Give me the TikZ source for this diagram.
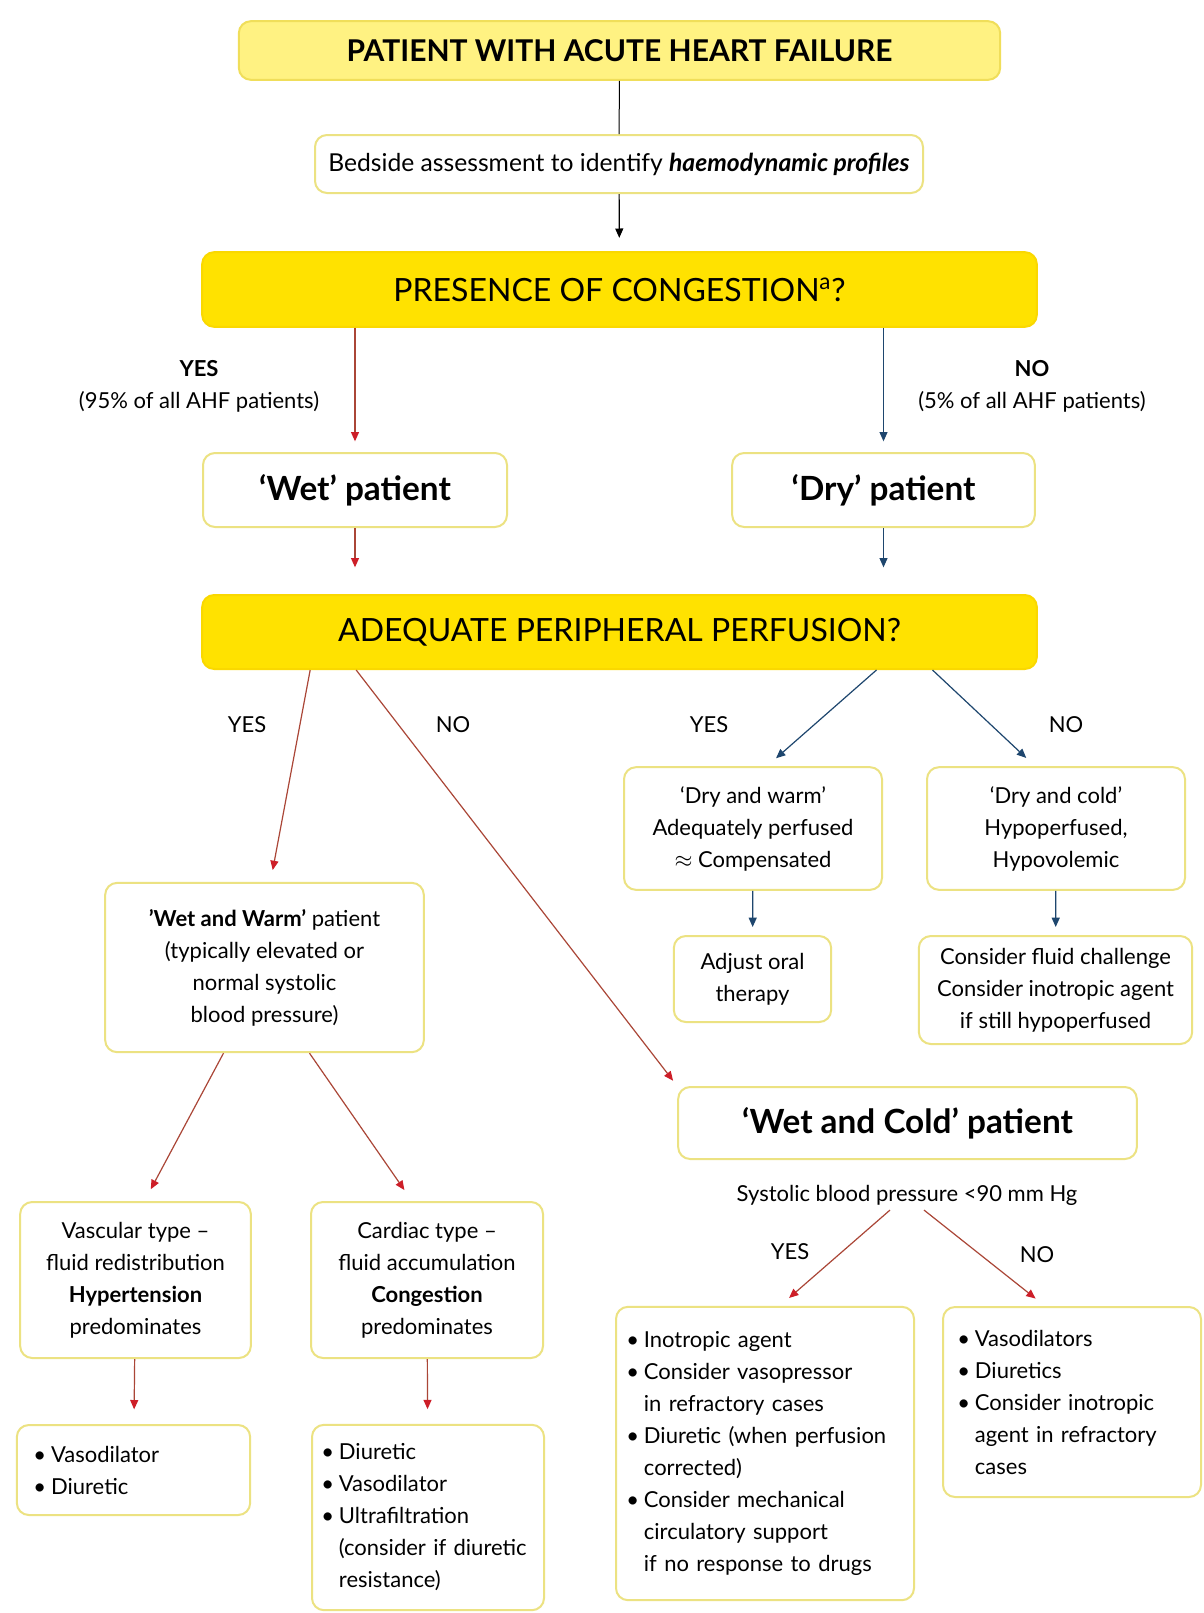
\documentclass[tikz,border=0pt]{standalone}
\usepackage{fontspec}
\setmainfont{Lato}
\usetikzlibrary{arrows.meta,calc}

\definecolor{paleYellow}{RGB}{255,242,130}
\definecolor{headEdge}{RGB}{240,222,90}
\definecolor{brightYellow}{RGB}{255,226,0}
\definecolor{questEdge}{RGB}{250,216,0}
\definecolor{boxEdge}{RGB}{236,226,130}
\definecolor{redLine}{RGB}{170,70,55}
\definecolor{redTip}{RGB}{205,30,40}
\definecolor{blueLine}{RGB}{30,70,110}

\newcommand{\bodyfont}{\fontsize{16.5}{24}\selectfont}
\newcommand{\bul}{\makebox[0.8em][l]{•}}
\newcommand{\ind}{\hspace*{0.8em}}

\tikzset{every picture/.style={line width=0.75pt},
  headbox/.style={draw=headEdge, fill=paleYellow, line width=1.5pt, rounded corners=9pt, align=center},
  questbox/.style={draw=questEdge, fill=brightYellow, line width=1.5pt, rounded corners=9pt, align=center},
  plainbox/.style={draw=boxEdge, fill=white, line width=1.5pt, rounded corners=9pt, align=center, font=\bodyfont},
  listbox/.style={plainbox, align=left},
  lbl/.style={font=\bodyfont, align=center},
  redarrow/.style={draw=redLine, line width=0.9pt, -{Triangle[length=7pt,width=6pt,color=redTip]}},
  bluearrow/.style={draw=blueLine, line width=0.9pt, -{Triangle[length=7pt,width=6pt]}},
  blackarrow/.style={draw=black, line width=0.9pt, -{Triangle[length=7pt,width=6pt]}}
}

\begin{document}
\begin{tikzpicture}[x=0.75pt,y=0.75pt,yscale=-1,xscale=1]
\path[use as bounding box, fill=white] (0,0) rectangle (1203,1613);

% top of the chart
\node[headbox, minimum width=571pt, minimum height=44pt] (patient) at (619.5,50.5) {\fontsize{22.5}{26}\selectfont\bfseries PATIENT WITH ACUTE HEART FAILURE};
\node[plainbox, minimum width=456pt, minimum height=43.5pt] (bedside) at (619,164) {\fontsize{18.5}{24}\selectfont Bedside assessment to identify \textbf{\textit{haemodynamic profiles}}};
\node[questbox, minimum width=626pt, minimum height=56pt] (congestion) at (619.5,289.5) {\fontsize{24}{26}\selectfont PRESENCE OF CONGESTION\textsuperscript{a}?};

% wet / dry
\node[lbl] (yesTop) at (199,386) {\textbf{YES}\\(95\% of all AHF patients)};
\node[lbl] (noTop) at (1032,386) {\textbf{NO}\\(5\% of all AHF patients)};
\node[plainbox, minimum width=228pt, minimum height=55.5pt] (wet) at (355,490) {\fontsize{25}{28}\selectfont\bfseries ‘Wet’ patient};
\node[plainbox, minimum width=227pt, minimum height=55.5pt] (dry) at (883.5,490) {\fontsize{25}{28}\selectfont\bfseries ‘Dry’ patient};
\node[questbox, minimum width=626pt, minimum height=55.5pt] (perfusion) at (619.5,632) {\fontsize{24}{26}\selectfont ADEQUATE PERIPHERAL PERFUSION?};

% perfusion branches
\node[lbl] (yesWet) at (247,725) {YES};
\node[lbl] (noWet) at (453,725) {NO};
\node[lbl] (yesDry) at (709,725) {YES};
\node[lbl] (noDry) at (1066,725) {NO};

\node[plainbox, minimum width=193.5pt, minimum height=92pt] (dryWarm) at (753,828.5) {‘Dry and warm’\\Adequately perfused\\$\approx$ Compensated};
\node[plainbox, minimum width=193.5pt, minimum height=92pt] (dryCold) at (1056,828.5) {‘Dry and cold’\\Hypoperfused,\\Hypovolemic};
\node[plainbox, minimum width=118pt, minimum height=64.5pt] (oral) at (752.5,979) {Adjust oral\\therapy};
\node[plainbox, minimum width=205pt, minimum height=81pt] (fluid) at (1055.5,990) {Consider fluid challenge\\Consider inotropic agent\\if still hypoperfused};

\node[plainbox, minimum width=239pt, minimum height=127pt] (wetWarm) at (264.5,967.5) {\textbf{’Wet and Warm’} patient\\(typically elevated or\\normal systolic\\blood pressure)};
\node[plainbox, minimum width=344pt, minimum height=54pt] (wetCold) at (907.5,1123) {\fontsize{25}{28}\selectfont\bfseries ‘Wet and Cold’ patient};
\node[lbl] (sbp) at (907,1195) {Systolic blood pressure <90 mm Hg};
\node[lbl] (yesSbp) at (790,1252) {YES};
\node[lbl] (noSbp) at (1037,1255) {NO};

% wet and warm subtypes
\node[plainbox, minimum width=173pt, minimum height=117pt] (vascular) at (135.5,1280) {Vascular type –\\fluid redistribution\\\textbf{Hypertension}\\predominates};
\node[plainbox, minimum width=174pt, minimum height=117pt] (cardiac) at (427,1280) {Cardiac type –\\fluid accumulation\\\textbf{Congestion}\\predominates};
\node[listbox, minimum width=175pt, minimum height=67.5pt, text width=150pt] (vascTreat) at (133.5,1470) {\bul Vasodilator\\\bul Diuretic};
\node[listbox, minimum width=174pt, minimum height=139pt, text width=160pt] (cardTreat) at (428,1517.5) {\bul Diuretic\\\bul Vasodilator\\\bul Ultrafiltration\\\ind (consider if diuretic\\\ind resistance)};

% wet and cold treatment
\node[listbox, minimum width=223.5pt, minimum height=220pt, text width=208pt] (lowSbp) at (765,1453.5) {\bul Inotropic agent\\\bul Consider vasopressor\\\ind in refractory cases\\\bul Diuretic (when perfusion\\\ind corrected)\\\bul Consider mechanical\\\ind circulatory support\\\ind if no response to drugs};
\node[listbox, minimum width=193.5pt, minimum height=142.5pt, text width=172pt] (highSbp) at (1072,1402) {\bul Vasodilators\\\bul Diuretics\\\bul Consider inotropic\\\ind agent in refractory\\\ind cases};

% connectors
\draw (patient) -- (bedside);
\draw[blackarrow, shorten >=10pt] (bedside) -- (congestion);
\draw[redarrow, shorten >=8pt] (wet.north |- congestion.south) -- (wet.north);
\draw[bluearrow, shorten >=8pt] (dry.north |- congestion.south) -- (dry.north);
\draw[redarrow, shorten >=20pt] (wet) -- (wet.center |- perfusion.north);
\draw[bluearrow, shorten >=20pt] (dry) -- (dry.center |- perfusion.north);

\draw[redarrow, shorten >=9pt] ($(perfusion.south west)+(109,0)$) -- ($(wetWarm.north)+(6,0)$);
\draw[redarrow, shorten >=5pt] ($(perfusion.south west)+(155,0)$) -- (wetCold.north west);
\draw[bluearrow, shorten >=9pt] ($(perfusion.south)+(257,0)$) -- ($(dryWarm.north)+(14,0)$);
\draw[bluearrow, shorten >=9pt] ($(perfusion.south)+(313,0)$) -- ($(dryCold.north)+(-21,0)$);
\draw[bluearrow, shorten >=6pt] (dryWarm) -- (oral);
\draw[bluearrow, shorten >=6pt] (dryCold) -- (fluid);

\draw[redarrow, shorten >=10pt] ($(wetWarm.south)+(-41,0)$) -- ($(vascular.north)+(9,0)$);
\draw[redarrow, shorten >=10pt] ($(wetWarm.south)+(45,0)$) -- ($(cardiac.north)+(-15,0)$);
\draw[redarrow, shorten >=11pt] (vascular) -- (vascTreat);
\draw[redarrow, shorten >=11pt] (cardiac) -- (cardTreat);

\draw[redarrow, shorten >=9pt] ($(sbp.south)+(-17,0)$) -- ($(lowSbp.north)+(15,0)$);
\draw[redarrow, shorten >=9pt] ($(sbp.south)+(17,0)$) -- ($(highSbp.north)+(-27,0)$);

\end{tikzpicture}
\end{document}
